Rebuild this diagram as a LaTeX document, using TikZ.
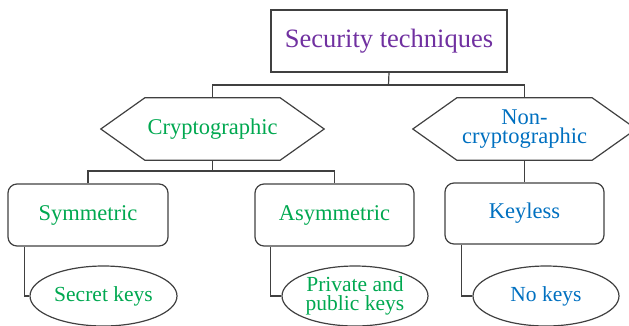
\documentclass[tikz,border=0pt]{standalone}
\usepackage{fontspec}
\setmainfont{Liberation Serif}
\usetikzlibrary{shapes.geometric,calc}
\definecolor{tpurple}{RGB}{112,48,160}
\definecolor{tgreen}{RGB}{0,168,80}
\definecolor{tblue}{RGB}{0,112,192}
\definecolor{lgray}{RGB}{64,64,64}
\tikzset{
  conn/.style={draw=lgray,line width=1.2pt},
  titlebox/.style={draw=lgray,line width=1.2pt,minimum width=236pt,minimum height=62pt,text=tpurple,font=\fontsize{26.5}{30}\selectfont,inner sep=0pt},
  hexbox/.style={minimum width=223pt,minimum height=62pt,inner sep=0pt,align=center,font=\fontsize{22.5}{19.5}\selectfont},
  roundbox/.style={draw=lgray,line width=1.2pt,rounded corners=9pt,minimum width=159pt,minimum height=62pt,inner sep=0pt,font=\fontsize{22.5}{20}\selectfont},
  keyell/.style={ellipse,draw=lgray,line width=1.2pt,minimum width=147pt,minimum height=60pt,inner sep=0pt,align=center,font=\fontsize{21.5}{18.5}\selectfont},
}
\newcommand{\hexdraw}[1]{%
  \draw[conn] (#1.west) -- ($(#1.north west)+(44,0)$) -- ($(#1.north east)+(-44,0)$) -- (#1.east) -- ($(#1.south east)+(-44,0)$) -- ($(#1.south west)+(44,0)$) -- cycle;}
\begin{document}
\begin{tikzpicture}[x=1pt,y=-1pt]
\useasboundingbox (0,0) rectangle (629,325);
\node[titlebox] (top) at (389,41) {Security techniques};
\node[hexbox,text=tgreen] (crypto) at (212.5,129) {Cryptographic};
\node[hexbox,text=tblue] (noncrypto) at (524.5,129) {Non-\\cryptographic};
\hexdraw{crypto}
\hexdraw{noncrypto}
\node[roundbox,text=tgreen,minimum width=160pt] (sym) at (88,215) {Symmetric};
\node[roundbox,text=tgreen] (asym) at (334.5,215) {Asymmetric};
\node[roundbox,text=tblue,minimum height=61pt] (keyless) at (524.5,213.5) {Keyless};
\node[keyell,text=tgreen] (sec) at (103.5,296) {Secret keys};
\node[keyell,text=tgreen,minimum width=146pt] (priv) at (355,296) {Private and\\public keys};
\node[keyell,text=tblue,minimum width=146pt] (nok) at (546,296) {No keys};
\coordinate (j1) at (388.5,85);
\coordinate (j2) at (212.5,171);
\draw[conn] (top.south) -- (j1);
\draw[conn] (crypto.north) |- (j1) -| (noncrypto.north);
\draw[conn] (crypto.south) -- (j2);
\draw[conn] (sym.north) |- (j2) -| (asym.north);
\draw[conn] (noncrypto.south) -- (keyless.north);
\draw[conn] ($(sym.south west)+(17,0)$) |- (sec.west);
\draw[conn] ($(asym.south west)+(16,0)$) |- (priv.west);
\draw[conn] ($(keyless.south west)+(17,0)$) |- (nok.west);
\end{tikzpicture}
\end{document}
